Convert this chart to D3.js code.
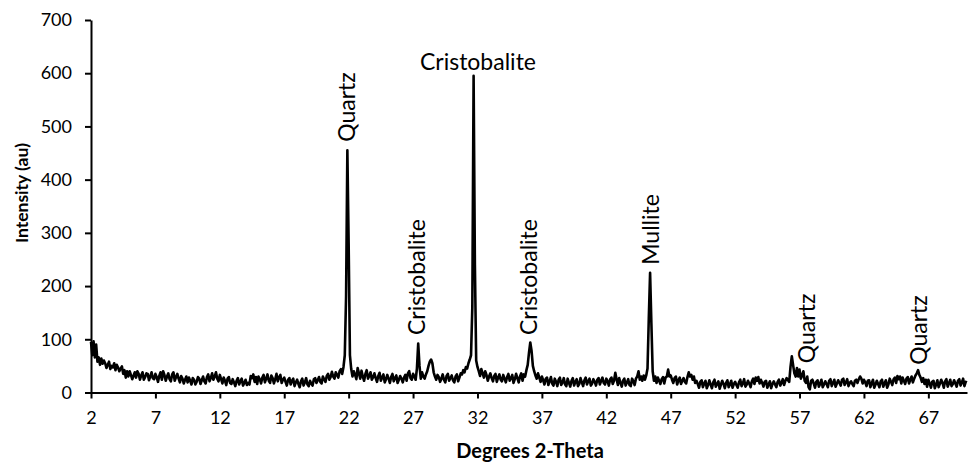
<!DOCTYPE html>
<html>
<head>
<meta charset="utf-8">
<script src="https://cdn.jsdelivr.net/npm/d3@7"></script>
<style>
  html, body { margin: 0; padding: 0; background: #fff; }
  svg { display: block; }
  text { font-family: Lato, "Open Sans", sans-serif; fill: #000; }
</style>
</head>
<body>
<svg id="chart" width="972" height="465"></svg>
<script>
// ---- DATA ----
const angleStart = 2;      // degrees 2-theta of first sample
const angleStep = 0.1;     // sampling step (degrees)
// intensity per 0.1 degree, one row per degree (2.0 ... 70.0)
const intensity = [
  95, 70, 96, 66, 90, 58, 66, 52, 64, 54,   // 2
  60, 55, 46, 52, 58, 44, 50, 47, 55, 42,   // 3
  52, 47, 40, 45, 49, 35, 42, 28, 40, 30,   // 4
  40, 33, 25, 31, 38, 28, 40, 35, 24, 32,   // 5
  38, 24, 29, 36, 35, 23, 30, 38, 27, 25,   // 6
  35, 29, 20, 31, 38, 24, 40, 33, 22, 30,   // 7
  36, 25, 21, 34, 38, 22, 29, 35, 26, 19,   // 8
  31, 26, 17, 24, 30, 19, 28, 22, 15, 27,   // 9
  24, 15, 20, 29, 26, 16, 23, 30, 21, 17,   // 10
  29, 34, 21, 27, 36, 24, 30, 38, 26, 21,   // 11
  33, 25, 17, 28, 22, 14, 26, 29, 18, 16,   // 12
  25, 19, 12, 22, 27, 15, 21, 26, 13, 18,   // 13
  24, 14, 18, 15, 31, 27, 34, 20, 29, 16,   // 14
  30, 25, 17, 28, 33, 19, 26, 34, 22, 18,   // 15
  32, 27, 17, 25, 35, 21, 29, 33, 18, 24,   // 16
  28, 20, 13, 24, 27, 15, 22, 26, 12, 19,   // 17
  24, 16, 10, 21, 26, 13, 19, 27, 15, 12,   // 18
  22, 17, 13, 25, 27, 18, 23, 29, 20, 17,   // 19
  30, 25, 20, 31, 35, 24, 29, 39, 30, 26,   // 20
  38, 33, 28, 40, 44, 35, 48, 70, 180, 455, // 21
  280, 70, 44, 30, 40, 33, 25, 46, 36, 26,  // 22
  41, 30, 22, 35, 42, 26, 31, 38, 24, 29,   // 23
  36, 27, 20, 31, 37, 22, 28, 34, 19, 25,   // 24
  33, 26, 18, 29, 35, 21, 27, 32, 18, 24,   // 25
  31, 26, 19, 28, 33, 22, 36, 40, 27, 24,   // 26
  35, 30, 24, 45, 92, 50, 26, 38, 30, 26,   // 27
  34, 40, 50, 58, 62, 55, 38, 30, 24, 33,   // 28
  29, 20, 26, 34, 24, 19, 31, 35, 22, 27,   // 29
  32, 23, 19, 30, 34, 21, 28, 36, 34, 42,   // 30
  38, 48, 45, 55, 62, 70, 160, 595, 240, 60,// 31
  48, 40, 31, 44, 36, 28, 40, 33, 22, 30,   // 32
  36, 27, 21, 31, 35, 20, 28, 34, 24, 21,   // 33
  33, 26, 19, 29, 35, 22, 27, 33, 18, 25,   // 34
  35, 27, 19, 30, 36, 22, 34, 30, 42, 52,   // 35
  75, 94, 78, 50, 40, 32, 26, 36, 28, 20,   // 36
  30, 23, 15, 26, 28, 14, 21, 29, 17, 13,   // 37
  26, 20, 12, 24, 28, 14, 19, 27, 15, 12,   // 38
  26, 18, 11, 22, 27, 13, 20, 25, 12, 16,   // 39
  27, 19, 12, 23, 28, 15, 21, 26, 13, 17,   // 40
  25, 20, 13, 24, 27, 15, 22, 28, 18, 15,   // 41
  26, 21, 13, 25, 28, 16, 22, 37, 25, 14,   // 42
  27, 18, 11, 22, 26, 13, 19, 25, 14, 12,   // 43
  26, 21, 14, 26, 30, 40, 24, 30, 22, 32,   // 44
  24, 32, 45, 140, 225, 130, 40, 22, 30, 18,// 45
  28, 22, 16, 25, 29, 17, 28, 30, 43, 30,   // 46
  32, 24, 18, 27, 30, 15, 23, 28, 16, 22,   // 47
  27, 20, 17, 29, 38, 30, 33, 24, 30, 18,   // 48
  22, 16, 9, 20, 23, 10, 17, 22, 8, 14,     // 49
  23, 15, 8, 19, 24, 11, 16, 21, 7, 15,     // 50
  22, 16, 8, 18, 23, 10, 15, 22, 9, 16,     // 51
  20, 14, 9, 19, 24, 12, 17, 25, 11, 15,    // 52
  22, 17, 10, 21, 26, 16, 28, 22, 29, 17,   // 53
  24, 18, 11, 20, 22, 9, 15, 21, 8, 16,     // 54
  21, 15, 10, 20, 24, 13, 18, 25, 14, 22,   // 55
  27, 23, 20, 48, 68, 52, 36, 30, 46, 30,   // 56
  43, 26, 32, 40, 22, 18, 30, 10, 6, 22,    // 57
  24, 17, 9, 20, 23, 11, 16, 24, 10, 15,    // 58
  21, 16, 10, 22, 25, 12, 18, 24, 11, 17,   // 59
  23, 18, 13, 24, 26, 14, 19, 25, 12, 18,   // 60
  21, 16, 12, 22, 24, 18, 25, 30, 26, 17,   // 61
  24, 19, 12, 22, 23, 10, 17, 24, 9, 15,    // 62
  22, 16, 10, 21, 24, 11, 17, 23, 9, 15,    // 63
  26, 20, 14, 25, 28, 18, 31, 25, 30, 17,   // 64
  28, 22, 16, 26, 29, 17, 24, 30, 19, 26,   // 65
  32, 36, 42, 33, 28, 20, 27, 16, 24, 11,   // 66
  24, 17, 9, 20, 22, 8, 15, 23, 10, 17,     // 67
  24, 18, 9, 21, 25, 11, 17, 24, 12, 16,    // 68
  23, 17, 11, 22, 25, 13, 19, 26, 12, 20,   // 69
  19                                        // 70
];
const xTicks = [2, 7, 12, 17, 22, 27, 32, 37, 42, 47, 52, 57, 62, 67];
const yTicks = [0, 100, 200, 300, 400, 500, 600, 700];
// peak annotations: phase name, anchor in data coordinates, orientation
const peakNames    = ["Quartz", "Cristobalite", "Cristobalite", "Cristobalite", "Mullite", "Quartz", "Quartz"];
const peakLabelX   = [22.49, 27.93, 32.04, 36.62, 46.09, 58.2, 66.9];
const peakLabelY   = [471, 108, 606, 108, 240, 55, 52];
const peakVertical = [true, true, false, true, true, true, true];

// ---- CHART ----
const svg = d3.select("#chart");
const x = d3.scaleLinear().domain([2, 70]).range([91, 967]);
const y = d3.scaleLinear().domain([0, 700]).range([392.5, 20]);

const points = intensity.map((v, i) => [angleStart + i * angleStep, v]);

svg.append("path")
  .datum(points)
  .attr("fill", "none")
  .attr("stroke", "#000")
  .attr("stroke-width", 2.6)
  .attr("stroke-linejoin", "round")
  .attr("d", d3.line().x(d => x(d[0])).y(d => y(d[1])));

const yAxis = svg.append("g")
  .attr("transform", `translate(${x(2)},0)`)
  .call(d3.axisLeft(y).tickValues(yTicks).tickSize(6).tickSizeOuter(0).tickPadding(13));
const xAxis = svg.append("g")
  .attr("transform", `translate(0,${y(0)})`)
  .call(d3.axisBottom(x).tickValues(xTicks).tickFormat(d3.format("d")).tickSize(6).tickSizeOuter(0).tickPadding(13));

[yAxis, xAxis].forEach(g => {
  g.select(".domain").attr("stroke", "#000").attr("stroke-width", 2);
  g.selectAll(".tick line").attr("stroke", "#000").attr("stroke-width", 2);
  g.selectAll(".tick text").attr("font-family", "Lato, 'Open Sans', sans-serif").attr("font-size", 18).attr("fill", "#000");
});

svg.append("text")
  .attr("x", 530).attr("y", 458)
  .attr("text-anchor", "middle")
  .attr("font-size", 20).attr("font-weight", "bold")
  .text("Degrees 2-Theta");

svg.append("text")
  .attr("transform", "translate(28,193) rotate(-90)")
  .attr("text-anchor", "middle")
  .attr("font-size", 17.5).attr("font-weight", "bold")
  .text("Intensity (au)");

peakNames.forEach((name, i) => {
  const px = x(peakLabelX[i]), py = y(peakLabelY[i]);
  const t = svg.append("text").attr("font-size", 23).text(name);
  if (peakVertical[i]) {
    t.attr("transform", `translate(${px},${py}) rotate(-90)`).attr("text-anchor", "start");
  } else {
    t.attr("x", px).attr("y", py).attr("text-anchor", "middle");
  }
});
</script>
</body>
</html>
